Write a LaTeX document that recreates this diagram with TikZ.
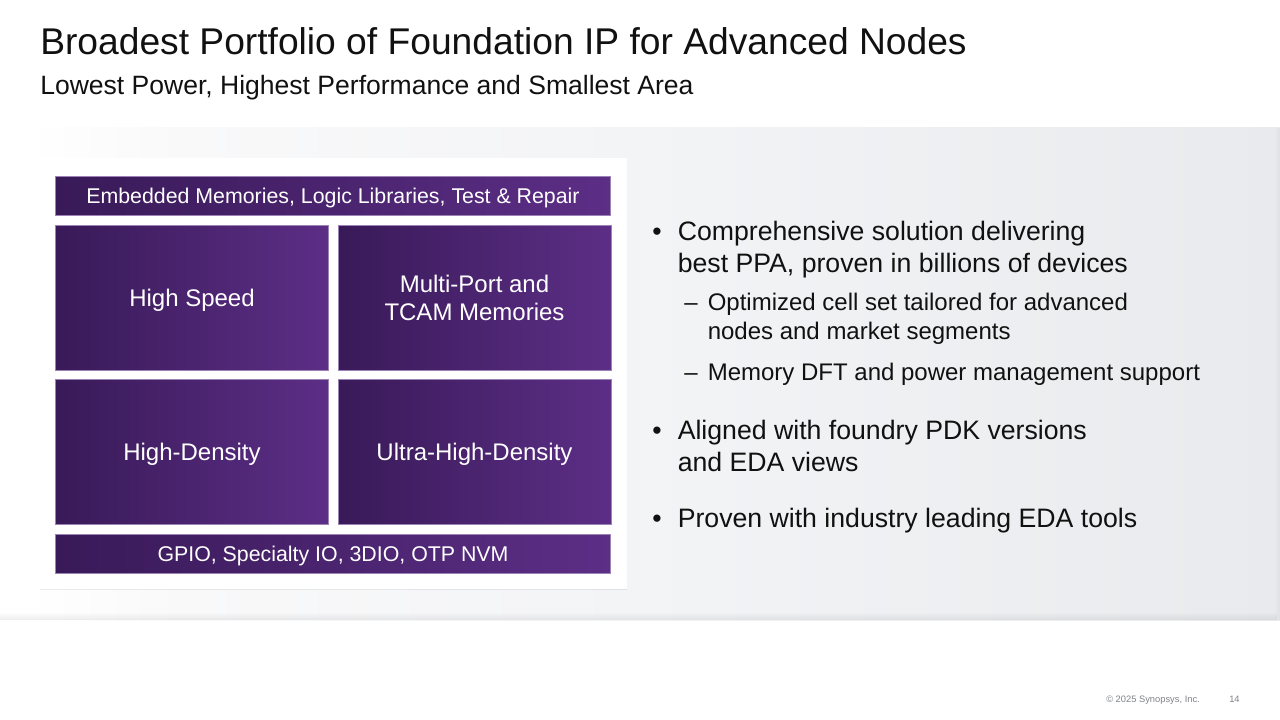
\documentclass[tikz,border=0pt]{standalone}
\usepackage{fontspec}
\setmainfont{Liberation Sans}
\usetikzlibrary{shadows,fadings}
\definecolor{purpleL}{HTML}{391A58}
\definecolor{purpleR}{HTML}{5C2E86}
\definecolor{inkblack}{HTML}{111111}
\definecolor{footgray}{HTML}{808288}
\definecolor{bandA}{HTML}{F9F9FA}
\definecolor{bandB}{HTML}{F3F4F6}
\definecolor{bandC}{HTML}{E9EAED}
\pgfdeclarehorizontalshading{bandfade}{100bp}{
  color(0bp)=(white); color(25bp)=(white); color(26bp)=(white); color(32bp)=(bandA);
  color(50bp)=(bandB); color(75bp)=(bandC); color(100bp)=(bandC)}
\begin{document}
\begin{tikzpicture}[x=0.75pt,y=-0.75pt,
  ipbox/.style={left color=purpleL,right color=purpleR,draw=purpleR!60!white,line width=.5pt,inner sep=0pt,text=white,align=center},
  wide box/.style={ipbox,minimum width=416pt,minimum height=29.5pt,font=\fontsize{16}{20}\selectfont,text height=14.5pt,text depth=3.4pt},
  cell box/.style={ipbox,minimum width=204.5pt,minimum height=108.5pt,font=\fontsize{18}{21.5}\selectfont},
  one line/.style={text height=16pt,text depth=3.8pt},
  low line/.style={text height=17.5pt,text depth=3.8pt},
  mainline/.style={anchor=base west,inner sep=0pt,text=inkblack,font=\fontsize{20}{24}\selectfont},
  subline/.style={anchor=base west,inner sep=0pt,text=inkblack,font=\fontsize{18}{22}\selectfont}]
  \useasboundingbox (0,0) rectangle (1280,720);

  \fill[white] (0,0) rectangle (1280,720);
  \shade[shading=bandfade] (0,128) rectangle (1280,620);
  \fill[black,opacity=.07,path fading=north] (0,612) rectangle (1280,620);
  \fill[black,opacity=.04,path fading=east,fading angle=180] (1274,128) rectangle (1280,620);

  \node[anchor=base west,inner sep=0pt,text=inkblack,font=\fontsize{27.9}{33}\selectfont] (title) at (40,55) {Broadest Portfolio of Foundation IP for Advanced Nodes};
  \node[anchor=base west,inner sep=0pt,text=inkblack,font=\fontsize{19.9}{24}\selectfont] (subtitle) at (40,95) {Lowest Power, Highest Performance and Smallest Area};

  \node[fill=white,minimum width=440pt,minimum height=323pt,inner sep=0pt,
    drop shadow={opacity=.15,shadow xshift=0pt,shadow yshift=-.5pt}] (panel) at (333.5,373.5) {};

  \node[wide box] (memories) at (333,196) {Embedded Memories, Logic Libraries, Test \& Repair};
  \node[cell box,one line] (speed) at (192,298) {High Speed};
  \node[cell box] (multiport) at (474.5,298) {Multi-Port and\\TCAM Memories};
  \node[cell box,low line] (density) at (192,451.5) {High-Density};
  \node[cell box,low line] (ultra) at (474.5,451.5) {Ultra-High-Density};
  \node[wide box] (gpio) at (333,554) {GPIO, Specialty IO, 3DIO, OTP NVM};

  % right column
  \node[mainline] (dot1) at (652,241) {•};
  \node[mainline] (line1) at (677.5,241) {Comprehensive solution delivering};
  \node[mainline] (line2) at (677.5,272.5) {best PPA, proven in billions of devices};
  \node[subline] (dash1) at (684,310) {–};
  \node[subline] (line3) at (707.5,310) {Optimized cell set tailored for advanced};
  \node[subline] (line4) at (707.5,339) {nodes and market segments};
  \node[subline] (dash2) at (684,380) {–};
  \node[subline] (line5) at (707.5,380) {Memory DFT and power management support};
  \node[mainline] (dot2) at (652,439) {•};
  \node[mainline] (line6) at (677.5,439) {Aligned with foundry PDK versions};
  \node[mainline] (line7) at (677.5,471) {and EDA views};
  \node[mainline] (dot3) at (652,527) {•};
  \node[mainline] (line8) at (677.5,527) {Proven with industry leading EDA tools};

  \node[anchor=base west,inner sep=0pt,text=footgray,font=\fontsize{7}{8}\selectfont] (copyright) at (1106,702) {© 2025 Synopsys, Inc.};
  \node[anchor=base west,inner sep=0pt,text=footgray,font=\fontsize{7}{8}\selectfont] (page) at (1229,702) {14};
\end{tikzpicture}
\end{document}
